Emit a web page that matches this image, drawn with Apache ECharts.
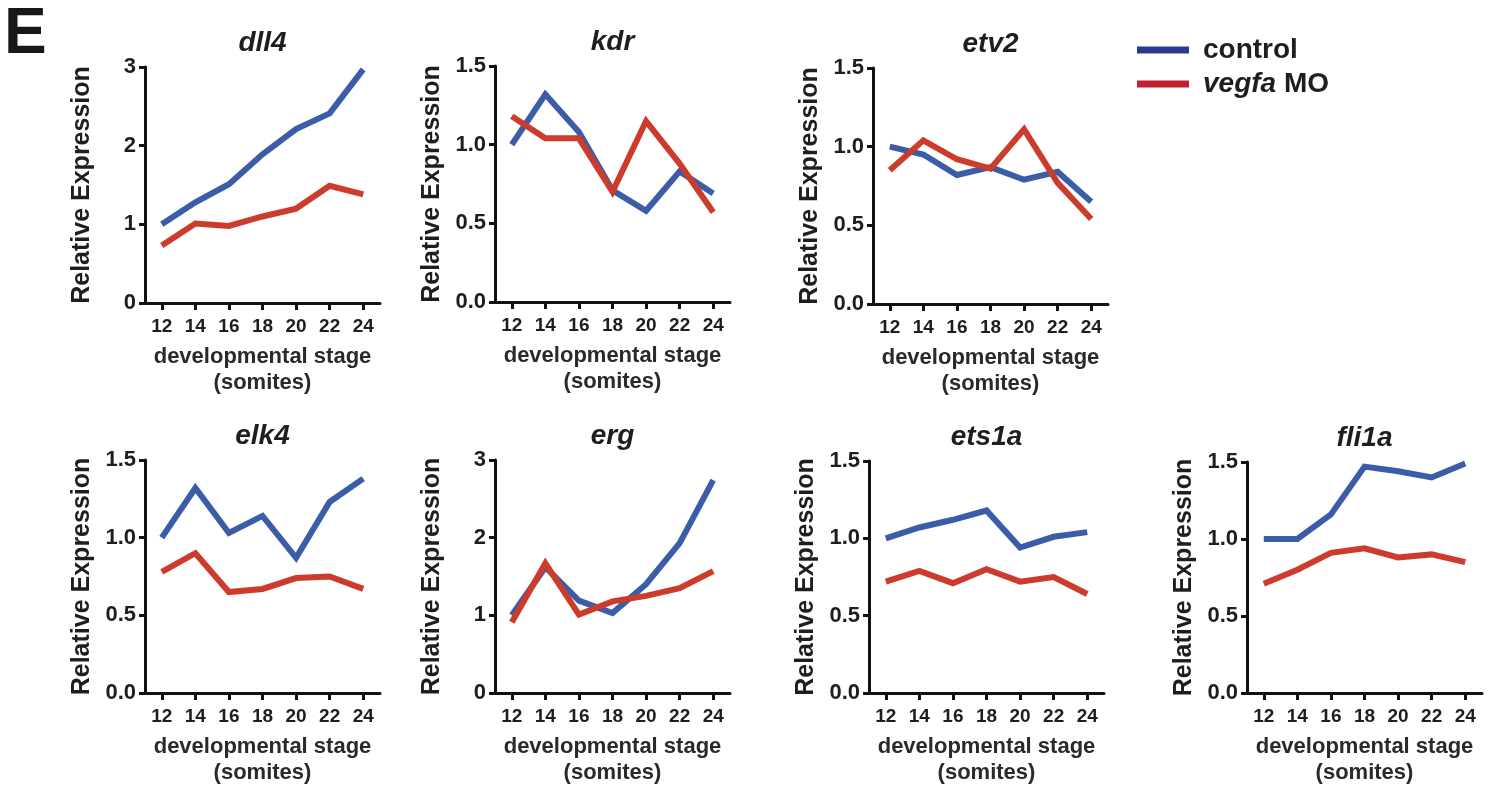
<!DOCTYPE html>
<html>
<head>
<meta charset="utf-8">
<script src="https://cdn.jsdelivr.net/npm/echarts@6/dist/echarts.min.js"></script>
<style>
html,body{margin:0;padding:0;background:#fff;}
#chart{width:1497px;height:787px;}
</style>
</head>
<body>
<div id="chart"></div>
<script>
// ---- data ----
var stages = ['12', '14', '16', '18', '20', '22', '24'];
var genes = ['dll4', 'kdr', 'etv2', 'elk4', 'erg', 'ets1a', 'fli1a'];
var seriesNames = ['control', 'vegfa MO'];

var dll4Control  = [1.00, 1.28, 1.51, 1.89, 2.21, 2.41, 2.97];
var dll4Vegfa    = [0.73, 1.01, 0.98, 1.10, 1.20, 1.49, 1.38];
var kdrControl   = [1.00, 1.32, 1.08, 0.71, 0.58, 0.83, 0.69];
var kdrVegfa     = [1.18, 1.04, 1.04, 0.70, 1.15, 0.88, 0.57];
var etv2Control  = [1.00, 0.95, 0.82, 0.87, 0.79, 0.84, 0.65];
var etv2Vegfa    = [0.85, 1.04, 0.92, 0.86, 1.11, 0.77, 0.54];
var elk4Control  = [1.00, 1.32, 1.03, 1.14, 0.87, 1.23, 1.38];
var elk4Vegfa    = [0.78, 0.90, 0.65, 0.67, 0.74, 0.75, 0.67];
var ergControl   = [1.00, 1.62, 1.19, 1.03, 1.40, 1.93, 2.74];
var ergVegfa     = [0.91, 1.67, 1.01, 1.18, 1.25, 1.35, 1.57];
var ets1aControl = [1.00, 1.07, 1.12, 1.18, 0.94, 1.01, 1.04];
var ets1aVegfa   = [0.72, 0.79, 0.71, 0.80, 0.72, 0.75, 0.64];
var fli1aControl = [1.00, 1.00, 1.16, 1.47, 1.44, 1.40, 1.49];
var fli1aVegfa   = [0.71, 0.80, 0.91, 0.94, 0.88, 0.90, 0.85];

var yMax = [3, 1.5, 1.5, 1.5, 3, 1.5, 1.5];
var yInterval = [1, 0.5, 0.5, 0.5, 1, 0.5, 0.5];
var yDecimals = [0, 1, 1, 1, 0, 1, 1];

var controlData = [dll4Control, kdrControl, etv2Control, elk4Control, ergControl, ets1aControl, fli1aControl];
var vegfaData = [dll4Vegfa, kdrVegfa, etv2Vegfa, elk4Vegfa, ergVegfa, ets1aVegfa, fli1aVegfa];

// ---- layout ----
var gridBoxes = [
  {left: 145, top: 67, width: 235, height: 236},
  {left: 495, top: 66, width: 235, height: 236},
  {left: 873, top: 68, width: 235, height: 236},
  {left: 145, top: 460, width: 235, height: 235},
  {left: 495, top: 460, width: 235, height: 235},
  {left: 869, top: 461, width: 235, height: 236},
  {left: 1247, top: 462, width: 235, height: 235}
];

var FONT = '"Liberation Sans", Arial, Helvetica, sans-serif';
var TXT = '#1e1e1e';
var AX = '#111';
var BLUE = '#3b5ca7';
var RED = '#cc3b2c';

var grids = [], xAxes = [], yAxes = [], series = [], titles = [];

titles.push({
  text: 'E', left: 4, top: 3, padding: 0,
  textStyle: {fontFamily: FONT, fontSize: 64, fontWeight: 'bold', color: '#1a1718'}
});

genes.forEach(function (g, i) {
  var b = gridBoxes[i];
  grids.push({left: b.left, top: b.top, width: b.width, height: b.height, containLabel: false});
  titles.push({
    text: g,
    left: b.left + b.width / 2,
    top: b.top - 38,
    textAlign: 'center',
    padding: 0,
    textStyle: {fontFamily: FONT, fontSize: 28, fontWeight: 'bold', fontStyle: 'italic', color: TXT}
  });
  xAxes.push({
    gridIndex: i,
    type: 'category',
    data: stages,
    boundaryGap: true,
    name: 'developmental stage\n(somites)',
    nameLocation: 'middle',
    nameGap: 41,
    nameTextStyle: {fontFamily: FONT, fontSize: 22, fontWeight: 'bold', color: '#2a2a2a', lineHeight: 26, verticalAlign: 'top'},
    axisLine: {show: true, lineStyle: {color: AX, width: 3}},
    axisTick: {show: true, alignWithLabel: true, interval: 0, length: 7, lineStyle: {color: AX, width: 3}},
    axisLabel: {interval: 0, margin: 14, fontFamily: FONT, fontSize: 19, fontWeight: 'bold', color: TXT},
    splitLine: {show: false}
  });
  yAxes.push({
    gridIndex: i,
    type: 'value',
    min: 0,
    max: yMax[i],
    interval: yInterval[i],
    name: 'Relative Expression',
    nameLocation: 'middle',
    nameRotate: 90,
    nameGap: 50,
    nameTextStyle: {fontFamily: FONT, fontSize: 25, fontWeight: 'bold', color: TXT},
    axisLine: {show: true, lineStyle: {color: AX, width: 3}},
    axisTick: {show: true, length: 6, lineStyle: {color: AX, width: 3}},
    axisLabel: {
      margin: 9, fontFamily: FONT, fontSize: 22, fontWeight: 'bold', color: TXT,
      formatter: (function (d) { return function (v) { return v.toFixed(d); }; })(yDecimals[i])
    },
    splitLine: {show: false}
  });
  series.push({
    name: seriesNames[0], type: 'line', xAxisIndex: i, yAxisIndex: i,
    data: controlData[i], symbol: 'none', showSymbol: false, clip: false, z: 2,
    lineStyle: {color: BLUE, width: 6, join: 'miter', cap: 'butt'},
    itemStyle: {color: BLUE}
  });
  series.push({
    name: seriesNames[1], type: 'line', xAxisIndex: i, yAxisIndex: i,
    data: vegfaData[i], symbol: 'none', showSymbol: false, clip: false, z: 3,
    lineStyle: {color: RED, width: 6, join: 'miter', cap: 'butt'},
    itemStyle: {color: RED}
  });
});

var option = {
  animation: false,
  backgroundColor: '#fff',
  title: titles,
  legend: {
    orient: 'vertical',
    left: 1137,
    top: 35,
    padding: 0,
    itemGap: 4,
    itemWidth: 52,
    itemHeight: 7,
    icon: 'rect',
    selectedMode: false,
    itemStyle: {borderWidth: 0},
    data: [
      {name: seriesNames[0], itemStyle: {color: '#2a3a92'}},
      {name: seriesNames[1], itemStyle: {color: '#c0202f'}}
    ],
    formatter: function (name) {
      return name === 'vegfa MO' ? '{i|vegfa} {n|MO}' : '{n|' + name + '}';
    },
    textStyle: {
      fontFamily: FONT, fontSize: 28, fontWeight: 'bold', color: TXT, lineHeight: 30,
      rich: {
        i: {fontFamily: FONT, fontSize: 28, fontWeight: 'bold', fontStyle: 'italic', color: TXT, lineHeight: 30},
        n: {fontFamily: FONT, fontSize: 28, fontWeight: 'bold', color: TXT, lineHeight: 30}
      },
      padding: [0, 0, 0, 9]
    }
  },
  grid: grids,
  xAxis: xAxes,
  yAxis: yAxes,
  series: series
};

var chart = echarts.init(document.getElementById('chart'), null, {renderer: 'canvas'});
chart.setOption(option);
</script>
</body>
</html>
